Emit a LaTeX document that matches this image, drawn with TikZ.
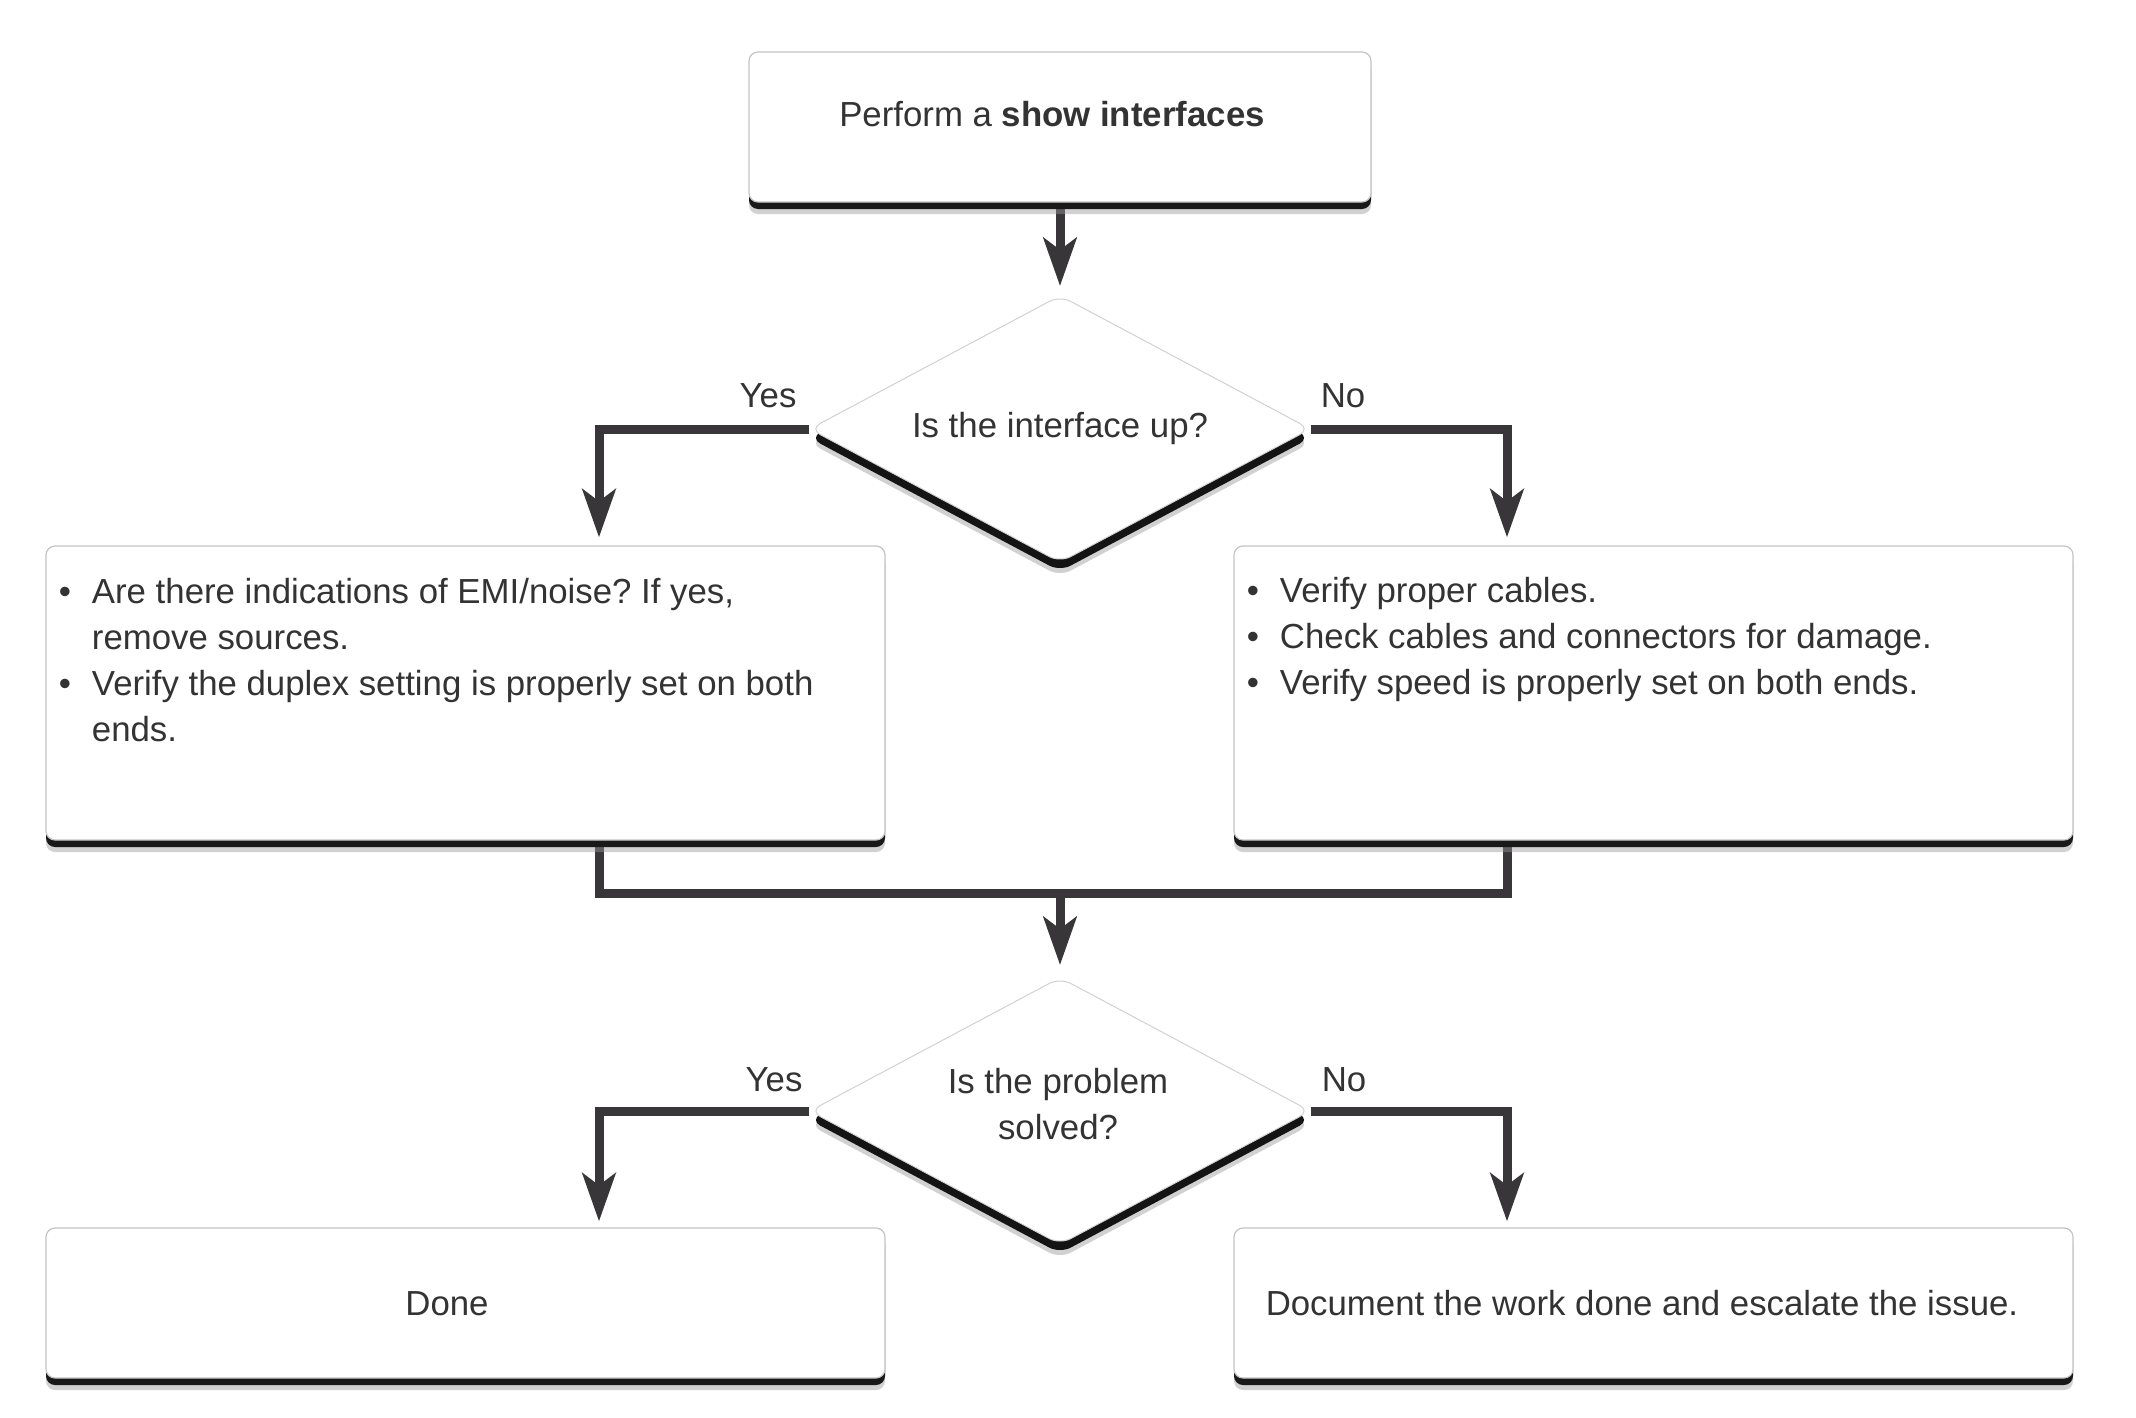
\documentclass[tikz,border=0pt]{standalone}
\usepackage{fontspec}
\setmainfont{Liberation Sans}
\usetikzlibrary{arrows.meta,shapes.geometric,shadows,calc}
\definecolor{ink}{HTML}{333333}
\definecolor{wirec}{HTML}{383638}
\definecolor{rim}{HTML}{C4C4C4}
\pgfdeclarelayer{canvas}
\pgfdeclarelayer{wires}
\pgfsetlayers{canvas,wires,main}
\frenchspacing

\begin{document}
\begin{tikzpicture}[x=1pt,y=-1pt,
  every node/.style={font=\fontsize{34.8pt}{46pt}\selectfont, text=ink},
  card/.style={rectangle, rounded corners=9pt, fill=white, draw=rim,
    line width=1.2pt, inner sep=0pt,
    general shadow={fill=black!40, opacity=.45, shadow yshift=-12pt},
    general shadow={fill=black!90, shadow yshift=-7pt}},
  decision/.style={diamond, minimum width=501pt, minimum height=267pt,
    inner sep=0pt, rounded corners=12pt, fill=white, draw=black!18,
    line width=1pt,
    general shadow={fill=black!40, opacity=.45, shadow yshift=-14pt},
    general shadow={fill=black!92, shadow yshift=-9pt}},
  wire/.style={draw=wirec, line width=9pt},
  flow/.style={wire, -{Stealth[length=48pt, width=33pt, inset=12pt]}},
  tag/.style={anchor=base},
  bullets/.style={anchor=base west},
]
% canvas
\begin{pgfonlayer}{canvas}
  \fill[white] (0,0) rectangle (2136,1418);
\end{pgfonlayer}
\useasboundingbox (0,0) rectangle (2136,1418);

% start
\node[card, minimum width=622pt, minimum height=150pt] (start) at (1060,127) {};
\node[tag] (starttxt) at (1052,127) {Perform a \textbf{show interfaces}};

% first decision
\node[decision] (q1) at (1060,429) {};
\node[tag] (q1txt) at (1060,437) {Is the interface up?};
\node[tag] (yes1) at (768,407) {Yes};
\node[tag] (no1) at (1343,407) {No};

% checks
\node[card, minimum width=839pt, minimum height=294pt] (lbox) at (465.5,693) {};
\node[card, minimum width=839pt, minimum height=294pt] (rbox) at (1653.5,693) {};
\node[bullets] (ltxt) at ($(lbox.north west)+(10,58)$) {%
  \begin{tabular}[t]{@{}l@{}l@{}}
  \makebox[33pt][l]{\textbullet} & Are there indications of EMI/noise? If yes,\\
   & remove sources.\\
  \textbullet & Verify the duplex setting is properly set on both\\
   & ends.
  \end{tabular}};
\node[bullets] (rtxt) at ($(rbox.north west)+(10,57)$) {%
  \begin{tabular}[t]{@{}l@{}l@{}}
  \makebox[33pt][l]{\textbullet} & Verify proper cables.\\
  \textbullet & Check cables and connectors for damage.\\
  \textbullet & Verify speed is properly set on both ends.
  \end{tabular}};

% second decision
\node[decision] (q2) at (1060,1111) {};
\node[tag] (q2txt) at (1058,1093) {%
  \begin{tabular}[t]{@{}c@{}}Is the problem\\ solved?\end{tabular}};
\node[tag] (yes2) at (774,1091) {Yes};
\node[tag] (no2) at (1344,1091) {No};

% outcomes
\node[card, minimum width=839pt, minimum height=150pt] (done) at (465.5,1303) {};
\node[tag] (donetxt) at (447,1315) {Done};
\node[card, minimum width=839pt, minimum height=150pt] (esc) at (1653.5,1303) {};
\node[tag] (esctxt) at (1642,1315) {Document the work done and escalate the issue.};

% connectors
\coordinate (lx) at (599,0);
\coordinate (rx) at (1507,0);
\coordinate (mj) at (1060,893);
\begin{pgfonlayer}{wires}
  \draw[flow, shorten >=9pt] (start.south) -- (q1.north);
  \draw[flow, shorten >=8pt] (q1.west) -| (lx |- lbox.north);
  \draw[flow, shorten >=8pt] (q1.east) -| (rx |- rbox.north);
  \draw[wire] (lx |- lbox.south) |- (mj) -| (rx |- rbox.south);
  \draw[flow, shorten >=12pt] (mj) -- (q2.north);
  \draw[flow, shorten >=6pt] (q2.west) -| (lx |- done.north);
  \draw[flow, shorten >=6pt] (q2.east) -| (rx |- esc.north);
\end{pgfonlayer}
\end{tikzpicture}
\end{document}
